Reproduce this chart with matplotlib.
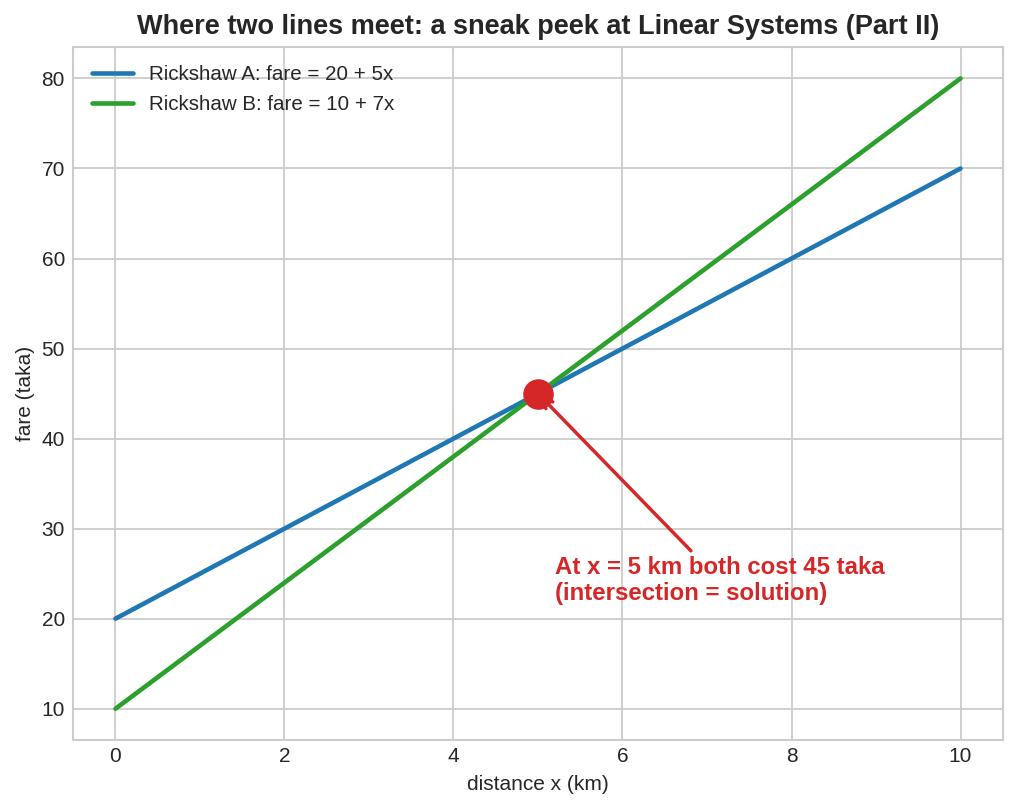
import numpy as np
import matplotlib.pyplot as plt

plt.style.use('seaborn-v0_8-whitegrid')
plt.rcParams['font.family'] = ['Liberation Sans', 'DejaVu Sans']

# data
x = np.array([0, 10])
fare_a = 20 + 5 * x
fare_b = 10 + 7 * x
x_meet, y_meet = 5, 45

fig, ax = plt.subplots(figsize=(10.17, 8.09), dpi=100)

ax.plot(x, fare_a, color='#1f77b4', lw=3.3, solid_capstyle='round', label='Rickshaw A: fare = 20 + 5x')
ax.plot(x, fare_b, color='#2ca02c', lw=3.3, solid_capstyle='round', label='Rickshaw B: fare = 10 + 7x')
ax.plot([x_meet], [y_meet], 'o', color='#d62728', markersize=21, zorder=5)

ax.annotate('At x = 5 km both cost 45 taka\n(intersection = solution)',
            xy=(x_meet, y_meet), xytext=(5.2, 21.5),
            fontsize=17.3, fontweight='bold', color='#d62728', ha='left', va='bottom',
            arrowprops=dict(arrowstyle='->', color='#d62728', lw=2.5))

ax.set_title('Where two lines meet: a sneak peek at Linear Systems (Part II)', fontsize=19.5,
             fontweight='bold', pad=9)
ax.set_xlabel('distance x (km)', fontsize=15, labelpad=6.5)
ax.set_ylabel('fare (taka)', fontsize=15, labelpad=4.5)
ax.tick_params(axis='x', labelsize=15, pad=5)
ax.tick_params(axis='y', labelsize=15, pad=6)
ax.legend(loc='upper left', fontsize=14.8, frameon=False)
ax.grid(color='#cccccc', lw=1.3)

for s in ax.spines.values():
    s.set_visible(True)
    s.set_color('#cccccc')
    s.set_linewidth(1.5)

fig.subplots_adjust(left=0.072, right=0.986, top=0.942, bottom=0.085)
fig.savefig('out.png', dpi=100)
